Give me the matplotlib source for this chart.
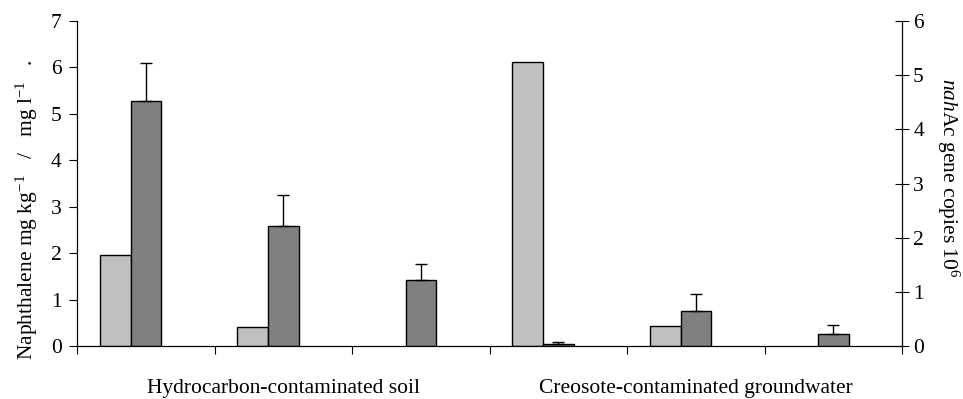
import matplotlib.pyplot as plt
import numpy as np

# naphthalene (left axis) and nahAc copies (right axis) per sample
naphthalene = [1.97, 0.40, 0.0, 6.12, 0.44, 0.0]
nahac = [4.52, 2.22, 1.21, 0.04, 0.65, 0.22]
nahac_err = [0.71, 0.56, 0.30, 0.03, 0.31, 0.16]
sites = ['Hydrocarbon-contaminated soil', 'Creosote-contaminated groundwater']

plt.rcParams['font.family'] = 'Liberation Serif'
plt.rcParams['font.size'] = 15.5
plt.rcParams['mathtext.fontset'] = 'custom'
plt.rcParams['mathtext.rm'] = 'Liberation Serif'
plt.rcParams['mathtext.it'] = 'Liberation Serif:italic'

fig = plt.figure(figsize=(9.63, 3.99), dpi=100)
ax = fig.add_axes([0.08, 0.1328, 0.8567, 0.8145])
ax2 = ax.twinx()

n = len(naphthalene)
x = np.arange(n) + 0.5
w = 1 / 4.5

# light bars only where there is a value
light = np.array(naphthalene)
keep = light > 0
ax.bar(x[keep] - w, light[keep], w, color='#c0c0c0', edgecolor='black', linewidth=1.0)

ax2.bar(x, nahac, w, color='#808080', edgecolor='black', linewidth=1.0)
ax2.errorbar(x, nahac, yerr=[np.zeros(n), nahac_err], fmt='none',
             ecolor='black', elinewidth=1.0, capsize=4.5, capthick=1.0)

ax.set_xlim(0, n)
ax.set_ylim(0, 7)
ax2.set_ylim(0, 6)
ax.set_yticks(range(0, 8))
ax2.set_yticks(range(0, 7))
ax.set_xticks(range(0, n + 1))
ax.set_xticklabels([])

for a in (ax, ax2):
    for s in a.spines.values():
        s.set_linewidth(0.8)
    a.spines['top'].set_visible(False)

ax.tick_params(axis='y', direction='out', length=6, width=0.8, pad=5)
ax.tick_params(axis='x', direction='out', length=6, width=0.8)
ax2.tick_params(axis='y', direction='inout', length=10, width=0.8, pad=3)

ax.set_ylabel('Naphthalene mg kg$^{\\mathregular{-1}}$   /   mg l$^{\\mathregular{-1}}$   .', va='center')
ax.yaxis.set_label_coords(-0.061, 0.42)
ax2.set_ylabel('$\\mathit{nah}$Ac gene copies 10$^{\\mathregular{6}}$', rotation=270, va='center')
ax2.yaxis.set_label_coords(1.056, 0.517)

for i, name in enumerate(sites):
    ax.text(1.5 + 3 * i, -0.13, name, transform=ax.get_xaxis_transform(),
            ha='center', va='center')

fig.savefig('out.png', dpi=100)
